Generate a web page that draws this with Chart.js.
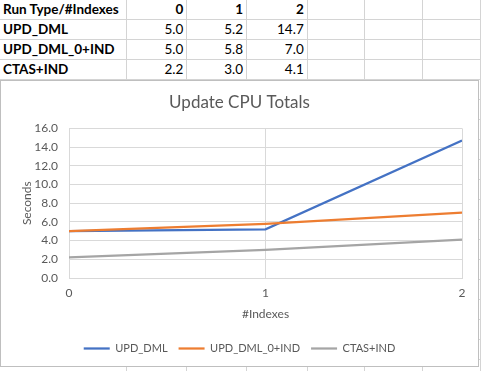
<!DOCTYPE html>
<html>
<head>
<meta charset="utf-8">
<script src="https://cdn.jsdelivr.net/npm/chart.js@4"></script>
<style>
  html, body { margin: 0; padding: 0; background: #fff; }
  body { width: 481px; height: 371px; overflow: hidden; position: relative; font-family: Lato, "Liberation Sans", sans-serif; }
  #sheet { position: absolute; left: 0; top: 0; border-collapse: collapse; table-layout: fixed; }
  #sheet td { height: 19px; padding: 0 3px; border-right: 1px solid #d4d4d4; border-bottom: 1px solid #d4d4d4;
    font-size: 13.5px; color: #000; white-space: nowrap; overflow: hidden; line-height: 19px; vertical-align: bottom; }
  #sheet td.num { text-align: right; }
  #sheet td.b { font-weight: bold; }
  #box { position: absolute; left: 0; top: 80px; width: 479px; height: 287px; box-sizing: border-box;
    border: 1px solid #bfbfbf; background: #fff; }
  #box canvas { display: block; }
</style>
</head>
<body>
<table id="sheet"></table>
<div id="box"><canvas id="chart" width="477" height="285"></canvas></div>
<script>
const indexes = [0, 1, 2]
const seriesNames = ['UPD_DML', 'UPD_DML_0+IND', 'CTAS+IND']
const updDml = [5.0, 5.2, 14.7]
const updDml0Ind = [5.0, 5.8, 7.0]
const ctasInd = [2.2, 3.0, 4.1]
const colors = ['#4472C4', '#ED7D31', '#A5A5A5']

// spreadsheet cells behind the chart
const sheet = document.getElementById('sheet')
const colWidths = [128, 64, 64, 64, 64, 64, 64]
const rows = [['Run Type/#Indexes', ...indexes.map(String)]]
;[updDml, updDml0Ind, ctasInd].forEach((s, i) => rows.push([seriesNames[i], ...s.map(v => v.toFixed(1))]))
for (let r = 0; r < 19; r++) {
    const tr = document.createElement('tr')
    colWidths.forEach((w, c) => {
        const td = document.createElement('td')
        td.style.width = (w - 7) + 'px'
        const txt = rows[r] && rows[r][c]
        if (txt !== undefined) {
            td.textContent = txt
            if (c > 0) td.classList.add('num')
            if (r === 0 || c === 0) td.classList.add('b')
        }
        tr.appendChild(td)
    })
    sheet.appendChild(tr)
}

const textColor = '#595959'
const gridColor = '#d9d9d9'
const fontFamily = 'Lato, "Liberation Sans", sans-serif'

const datasets = [updDml, updDml0Ind, ctasInd].map((s, i) => ({
    label: seriesNames[i],
    data: s.map((y, j) => ({ x: indexes[j], y })),
    borderColor: colors[i],
    backgroundColor: colors[i],
    borderWidth: 2.25,
    pointRadius: 0,
    tension: 0,
    order: 3 - i,
}))

new Chart(document.getElementById('chart').getContext('2d'), {
    type: 'line',
    data: { datasets },
    options: {
        responsive: false,
        animation: false,
        layout: { padding: { left: 0, right: 0, top: 0, bottom: 2 } },
        plugins: {
            title: {
                display: true, text: 'Update CPU Totals', color: textColor,
                font: { family: fontFamily, size: 17, weight: 'normal' },
                padding: { top: 11, bottom: 16 },
            },
            legend: {
                position: 'bottom',
                labels: {
                    color: textColor, font: { family: fontFamily, size: 11 },
                    usePointStyle: true, pointStyle: 'line', pointStyleWidth: 26,
                    boxHeight: 11, padding: 11,
                    sort: (a, b) => a.datasetIndex - b.datasetIndex,
                },
            },
            tooltip: { enabled: false },
        },
        scales: {
            x: {
                type: 'linear', min: 0, max: 2,
                ticks: { stepSize: 1, color: textColor, font: { family: fontFamily, size: 12 }, padding: 8 },
                grid: { color: gridColor, drawTicks: false },
                border: { color: gridColor },
                title: { display: true, text: '#Indexes', color: textColor, font: { family: fontFamily, size: 12 }, padding: { top: 0, bottom: 11 } },
                afterFit: s => { s.height = 54 },
            },
            y: {
                min: 0, max: 16,
                ticks: { stepSize: 2, color: textColor, font: { family: fontFamily, size: 12 }, padding: 11, callback: v => v.toFixed(1) },
                grid: { color: gridColor, drawTicks: false },
                border: { color: gridColor },
                title: { display: true, text: 'Seconds', color: textColor, font: { family: fontFamily, size: 12 }, padding: { top: 19, bottom: 0 } },
                afterFit: s => { s.width = 68 },
            },
            // empty right margin so the plot ends where the reference does
            yRight: {
                position: 'right', display: true,
                grid: { display: false }, border: { display: false }, ticks: { display: false },
                afterFit: s => { s.width = 16 },
            },
        },
    },
})
</script>
</body>
</html>
